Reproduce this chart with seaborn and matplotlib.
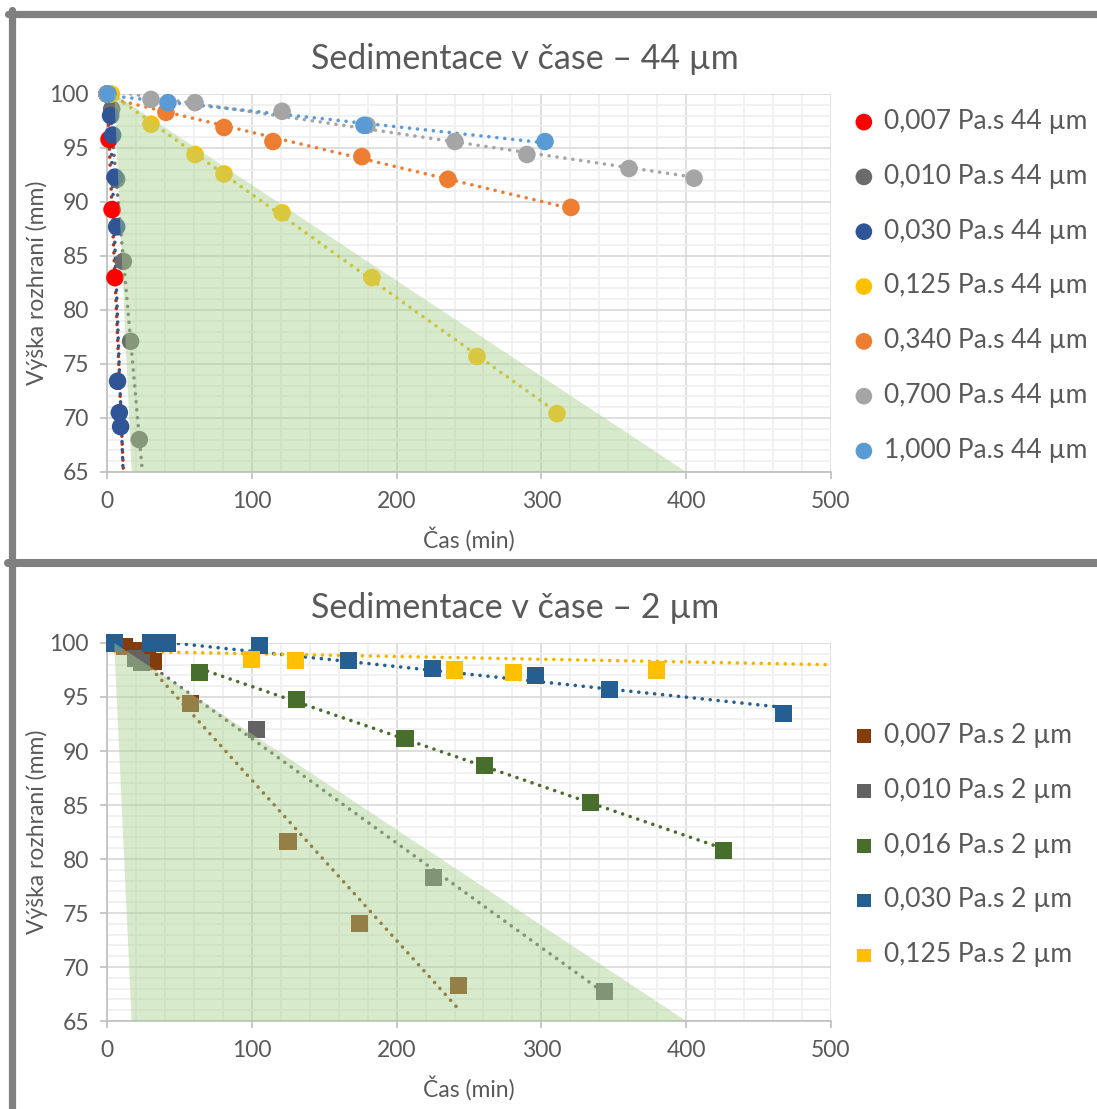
import numpy as np
import pandas as pd
import matplotlib
matplotlib.use("Agg")
import matplotlib.pyplot as plt
from matplotlib.lines import Line2D
from matplotlib.ticker import MultipleLocator
import seaborn as sns

# ---------------- data: 44 µm particles ----------------
t_007_44 = [0, 1.4, 3.5, 5.5]
h_007_44 = [100, 95.8, 89.3, 83.0]
t_010_44 = [0, 3.2, 6.7, 11.3, 16.3, 22.3]
h_010_44 = [100, 98.6, 92.1, 84.5, 77.1, 68.0]
t_030_44 = [0, 2.5, 3.9, 5.5, 6.7, 7.3, 8.5, 9.4]
h_030_44 = [100, 98.0, 96.2, 92.3, 87.7, 73.4, 70.5, 69.2]
t_125_44 = [3, 30.4, 60.8, 80.8, 120.9, 183, 255.5, 310.8]
h_125_44 = [100, 97.2, 94.4, 92.6, 89.0, 83.0, 75.7, 70.4]
t_340_44 = [0, 40.7, 80.8, 114.6, 176, 235.5, 320.4]
h_340_44 = [100, 98.3, 96.9, 95.6, 94.2, 92.1, 89.5]
t_700_44 = [0, 30.4, 60.8, 120.9, 179.6, 240.3, 290, 360.5, 405.4]
h_700_44 = [100, 99.5, 99.2, 98.4, 97.1, 95.6, 94.4, 93.1, 92.2]
t_1000_44 = [0.7, 42.1, 177.5, 302.5]
h_1000_44 = [100, 99.2, 97.1, 95.6]

labels_44 = ["0,007 Pa.s 44 µm", "0,010 Pa.s 44 µm", "0,030 Pa.s 44 µm",
             "0,125 Pa.s 44 µm", "0,340 Pa.s 44 µm", "0,700 Pa.s 44 µm",
             "1,000 Pa.s 44 µm"]
colors_44 = ["#ff0000", "#6b6b6b", "#2f5597", "#ffc000", "#ed7d31",
             "#a5a5a5", "#5b9bd5"]
trend_colors_44 = ["#b0361a", "#6b6b6b", "#2f5597", "#e6b800", "#ed7d31",
                   "#a5a5a5", "#5b9bd5"]
# fast-settling series: trend line is forecast down to the axis floor
reach_floor_44 = [True, True, True, False, False, False, False]

# ---------------- data: 2 µm particles ----------------
t_007_2 = [12, 20, 28, 32, 58, 125, 174.7, 243]
h_007_2 = [99.7, 99.3, 98.8, 98.3, 94.4, 81.6, 74.0, 68.3]
t_010_2 = [20, 24, 103, 225.8, 343.9]
h_010_2 = [98.6, 98.2, 92.0, 78.3, 67.7]
t_016_2 = [64.2, 131.2, 205.8, 260.4, 333.6, 426.1]
h_016_2 = [97.3, 94.8, 91.2, 88.7, 85.2, 80.8]
t_030_2 = [5.5, 29.7, 42, 105, 167, 225, 295.6, 346.7, 466.9]
h_030_2 = [100, 100, 100, 99.8, 98.4, 97.6, 97.0, 95.7, 93.5]
t_125_2 = [100, 130.5, 240.3, 280.4, 379.8]
h_125_2 = [98.5, 98.4, 97.5, 97.3, 97.5]
# linear trend (slope, intercept) of the full 0,125 Pa.s series, longer run
trend_125_2 = (-0.00254, 99.26)

labels_2 = ["0,007 Pa.s 2 µm", "0,010 Pa.s 2 µm", "0,016 Pa.s 2 µm",
            "0,030 Pa.s 2 µm", "0,125 Pa.s 2 µm"]
colors_2 = ["#843c0c", "#636363", "#476e2c", "#255e91", "#ffc000"]
trend_colors_2 = ["#843c0c", "#636363", "#476e2c", "#255e91", "#f2b600"]

# hindered-settling zone (shaded)
zone_t = [5, 17, 400]
zone_h = [100, 65, 65]

x_ticks_step, y_ticks_step = 100, 5
x_lim, y_lim = (0, 500), (65, 100)

# ---------------- styling ----------------
sns.set_theme(style="white")
plt.rcParams["font.family"] = ["Lato", "DejaVu Sans"]
TXT = "#595959"
FS_TICK = 16.5
FS_LEG = 19

W, H = 1097, 1109
fig = plt.figure(figsize=(W / 100, H / 100), dpi=100)


def px_box(left, top, right, bottom):
    return [left / W, 1 - bottom / H, (right - left) / W, (bottom - top) / H]


def style_axes(ax):
    ax.set_xlim(*x_lim)
    ax.set_ylim(*y_lim)
    ax.xaxis.set_major_locator(MultipleLocator(x_ticks_step))
    ax.xaxis.set_minor_locator(MultipleLocator(20))
    ax.yaxis.set_major_locator(MultipleLocator(y_ticks_step))
    ax.yaxis.set_minor_locator(MultipleLocator(1))
    ax.grid(which="major", color="#d9d9d9", lw=1.2, zorder=0)
    ax.grid(which="minor", color="#efefef", lw=1.2, zorder=0)
    ax.set_axisbelow(True)
    for s in ("top", "right"):
        ax.spines[s].set_visible(False)
    for s in ("left", "bottom"):
        ax.spines[s].set_color("#bfbfbf")
        ax.spines[s].set_linewidth(1.2)
    ax.tick_params(which="major", direction="out", length=5, width=1.2,
                   color="#bfbfbf", labelsize=FS_TICK, labelcolor=TXT,
                   left=True, bottom=True, pad=9)
    ax.tick_params(axis="y", pad=8)
    ax.tick_params(which="minor", length=0)
    ax.set_xlabel("Čas (min)", fontsize=FS_TICK, color=TXT, labelpad=10)
    ax.set_ylabel("Výška rozhraní (mm)", fontsize=FS_TICK, color=TXT,
                  labelpad=1)
    ax.fill(zone_t, zone_h, color="#a9d18e", alpha=0.45, lw=0, zorder=6)


def trend(ax, t, h, color, floor=False, coef=None, full=False):
    if coef is None:
        a, b = np.polyfit(t, h, 1)
    else:
        a, b = coef
    x0, x1 = min(t), max(t)
    if full:
        x0, x1 = x_lim
    if floor:
        x1 = max(x1, (y_lim[0] - b) / a)
    xs = np.linspace(x0, x1, 200)
    ax.plot(xs, a * xs + b, color=color, lw=2.6, ls=(0, (0.01, 2.2)),
            dash_capstyle="round", zorder=3)


def legend(handles, labels, top_px, scale):
    fig.legend(handles, labels, loc="upper left",
               bbox_to_anchor=(852 / W, 1 - top_px / H), frameon=False,
               fontsize=FS_LEG, labelcolor=TXT, handlelength=0.9,
               handletextpad=0.3, labelspacing=1.13, markerscale=scale,
               borderpad=0, borderaxespad=0)


# ---------------- top chart ----------------
ax1 = fig.add_axes(px_box(107, 94, 831, 472))
series_44 = [(t_007_44, h_007_44), (t_010_44, h_010_44), (t_030_44, h_030_44),
             (t_125_44, h_125_44), (t_340_44, h_340_44), (t_700_44, h_700_44),
             (t_1000_44, h_1000_44)]
for (t, h), lab, col, tcol, fl in zip(series_44, labels_44, colors_44,
                                      trend_colors_44, reach_floor_44):
    df = pd.DataFrame({"t": t, "h": h})
    sns.scatterplot(data=df, x="t", y="h", ax=ax1, color=col, s=160,
                    marker="o", edgecolor="none", label=lab, zorder=4,
                    clip_on=False)
    trend(ax1, t, h, tcol, floor=fl)
style_axes(ax1)
h1, l1 = ax1.get_legend_handles_labels()
ax1.get_legend().remove()
legend(h1, l1, 109, 0.95)
fig.text(525 / W, 1 - 59 / H, "Sedimentace v čase – 44 µm", ha="center",
         va="center", fontsize=24.5, color=TXT)

# ---------------- bottom chart ----------------
ax2 = fig.add_axes(px_box(107, 643, 831, 1021))
series_2 = [(t_007_2, h_007_2), (t_010_2, h_010_2), (t_016_2, h_016_2),
            (t_030_2, h_030_2), (t_125_2, h_125_2)]
for i, ((t, h), lab, col, tcol) in enumerate(zip(series_2, labels_2, colors_2,
                                                 trend_colors_2)):
    df = pd.DataFrame({"t": t, "h": h})
    sns.scatterplot(data=df, x="t", y="h", ax=ax2, color=col, s=150,
                    marker="s", edgecolor="none", label=lab, zorder=4,
                    clip_on=False)
    if i == 4:
        trend(ax2, t, h, tcol, coef=trend_125_2, full=True)
    else:
        trend(ax2, t, h, tcol)
style_axes(ax2)
h2, l2 = ax2.get_legend_handles_labels()
ax2.get_legend().remove()
legend(h2, l2, 723, 0.8)
fig.text(515 / W, 1 - 608 / H, "Sedimentace v čase – 2 µm", ha="center",
         va="center", fontsize=24.5, color=TXT)

# ---------------- outer frame ----------------
frame = "#808080"
fig.add_artist(Line2D([11.5 / W, 11.5 / W], [1 - 10 / H, 0],
                      transform=fig.transFigure, color=frame, lw=5.2))
fig.add_artist(Line2D([8 / W, 1], [1 - 13.5 / H, 1 - 13.5 / H],
                      transform=fig.transFigure, color=frame, lw=5.2))
fig.add_artist(Line2D([8 / W, 1], [1 - 563 / H, 1 - 563 / H],
                      transform=fig.transFigure, color=frame, lw=5.8))

fig.savefig("out.png", dpi=100, facecolor="white")
